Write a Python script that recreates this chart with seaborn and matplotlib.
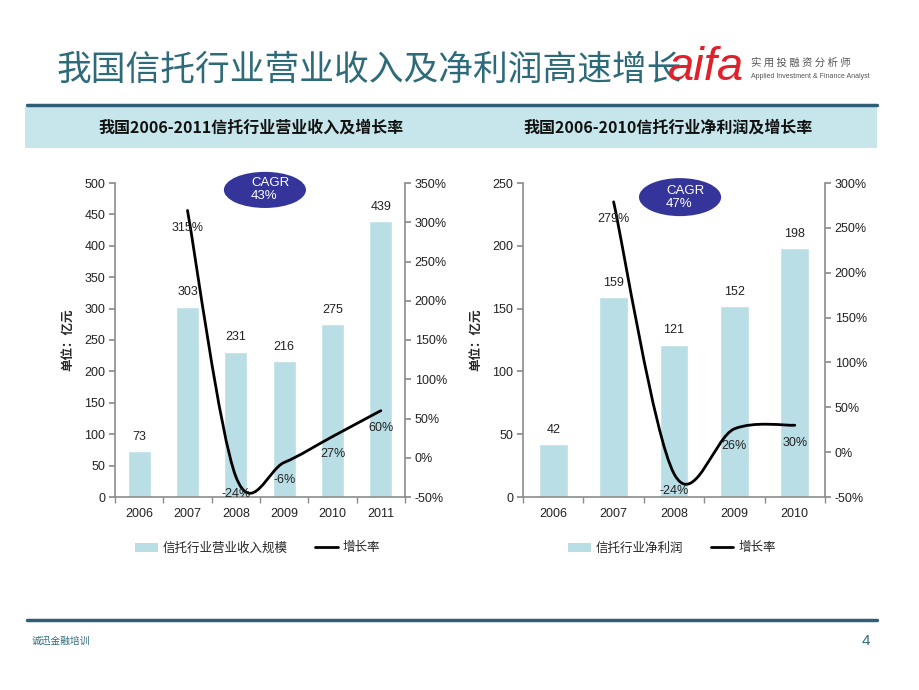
import numpy as np
import pandas as pd
import matplotlib
matplotlib.use('Agg')
import matplotlib.pyplot as plt
import seaborn as sns
from matplotlib.path import Path
from matplotlib.patches import PathPatch, Ellipse, Rectangle
from matplotlib.lines import Line2D

# data
years_rev = ['2006', '2007', '2008', '2009', '2010', '2011']
revenue = [73, 303, 231, 216, 275, 439]
rev_growth = [315, -24, -6, 27, 60]          # 2007-2011
years_prof = ['2006', '2007', '2008', '2009', '2010']
profit = [42, 159, 121, 152, 198]
prof_growth = [279, -24, 26, 30]             # 2007-2010
cagr_rev = '43%'
cagr_prof = '47%'

sns.set_theme(style='white')
plt.rcParams['font.family'] = ['Liberation Sans', 'Noto Sans CJK SC']

BAR = '#b9dee6'
TEAL = '#2d6a7a'
GRAY = '#8c8c8c'
W, H = 920, 690

fig = plt.figure(figsize=(9.2, 6.9), dpi=100)
fig.patch.set_facecolor('white')


def fx(px):
    return px / W


def fy(py):
    return 1 - py / H


def smooth_path(xs, ys):
    # excel style smoothed line as bezier segments
    pts = list(zip(xs, ys))
    verts = [pts[0]]
    codes = [Path.MOVETO]
    n = len(pts)
    for i in range(n - 1):
        p0 = np.array(pts[max(i - 1, 0)])
        p1 = np.array(pts[i])
        p2 = np.array(pts[i + 1])
        p3 = np.array(pts[min(i + 2, n - 1)])
        c1 = p1 + (p2 - p0) / 6
        c2 = p2 - (p3 - p1) / 6
        verts += [tuple(c1), tuple(c2), tuple(p2)]
        codes += [Path.CURVE4] * 3
    return Path(verts, codes)


def draw_chart(rect, years, vals, growth, ymax, gmax, cagr, ell, legend_label, legend_x):
    ax = fig.add_axes(rect)
    df = pd.DataFrame({'year': years, 'val': vals})
    sns.barplot(data=df, x='year', y='val', color=BAR, width=0.48, ax=ax,
                saturation=1)
    n = len(years)
    ax.set_xlim(-0.5, n - 0.5)
    ax.set_ylim(0, ymax)
    ax.set_yticks(np.arange(0, ymax + 1, 50))
    ax.set_xlabel('')
    ax.set_ylabel('单位：亿元', fontsize=9, fontweight='bold', labelpad=7,
                  family=['Noto Sans CJK SC'])
    for i, v in enumerate(vals):
        ax.annotate(str(v), (i, v), xytext=(0, 10.5), textcoords='offset points',
                    ha='center', va='center', fontsize=9, color='#222222')
    for s in ['top', 'right']:
        ax.spines[s].set_visible(False)
    for s in ['left', 'bottom']:
        ax.spines[s].set_color(GRAY)
        ax.spines[s].set_linewidth(1.2)
    ax.tick_params(axis='y', direction='out', length=4, color=GRAY, labelsize=9,
                   left=True, pad=3, labelcolor='#222222')
    ax.tick_params(axis='x', which='major', length=0, labelsize=9, pad=8,
                   labelcolor='#222222')
    ax.set_xticks(np.arange(-0.5, n, 1.0), minor=True)
    ax.tick_params(axis='x', which='minor', direction='out', length=4,
                   color=GRAY, bottom=True)

    ax2 = ax.twinx()
    ax2.set_xlim(-0.5, n - 0.5)
    ax2.set_ylim(-50, gmax)
    gt = np.arange(-50, gmax + 1, 50)
    ax2.set_yticks(gt)
    ax2.set_yticklabels([f'{int(t)}%' for t in gt])
    for s in ['top', 'left', 'bottom']:
        ax2.spines[s].set_visible(False)
    ax2.spines['right'].set_color(GRAY)
    ax2.spines['right'].set_linewidth(1.2)
    ax2.tick_params(axis='y', direction='out', length=4, color=GRAY, labelsize=9,
                    right=True, pad=3, labelcolor='#222222')
    gx = list(range(1, n))
    ax2.add_patch(PathPatch(smooth_path(gx, growth), facecolor='none',
                            edgecolor='black', linewidth=2, capstyle='round'))
    for x, g in zip(gx, growth):
        ax2.annotate(f'{g}%', (x, g), xytext=(0, -12.5), textcoords='offset points',
                     ha='center', va='center', fontsize=9, color='#222222')

    ex, ey, ew, eh = ell
    ax.add_patch(Ellipse((ex, ey), ew, eh, transform=ax.transAxes,
                         facecolor='#34349a', edgecolor='none', clip_on=False,
                         zorder=5))
    ax.text(ex - ew / 2 + 0.33 * ew, ey, f'CAGR\n{cagr}', transform=ax.transAxes,
            ha='left', va='center', color='white', fontsize=9.5,
            linespacing=1.1, zorder=6)

    handles = [Rectangle((0, 0), 1, 1, facecolor=BAR, edgecolor='none'),
               Line2D([0], [0], color='black', linewidth=2)]
    fig.legend(handles, [legend_label, '增长率'], loc='center',
               bbox_to_anchor=(fx(legend_x), fy(548)), ncol=2, frameon=False,
               prop={'family': ['Noto Sans CJK SC'], 'size': 9},
               handlelength=1.8, handletextpad=0.4, columnspacing=2.2)
    return ax


ax_l = draw_chart([fx(115), fy(497), fx(405 - 115), (497 - 183) / H],
                  years_rev, revenue, rev_growth, 500, 350, cagr_rev,
                  (0.517, 0.978, 0.283, 0.115), '信托行业营业收入规模', 258)
ax_r = draw_chart([fx(523), fy(497), fx(825 - 523), (497 - 183) / H],
                  years_prof, profit, prof_growth, 250, 300, cagr_prof,
                  (0.52, 0.955, 0.272, 0.121), '信托行业净利润', 672)

# header band and lines
fig.patches.append(Rectangle((fx(25), fy(148)), fx(877 - 25), (148 - 107) / H,
                             transform=fig.transFigure, facecolor='#c6e6eb',
                             edgecolor='none', zorder=0))
fig.add_artist(Line2D([fx(27), fx(877)], [fy(105), fy(105)], color='#2f5f78',
                      linewidth=2.5, transform=fig.transFigure))
fig.add_artist(Line2D([fx(27), fx(877)], [fy(620), fy(620)], color='#2f5f78',
                      linewidth=2.5, transform=fig.transFigure))

fig.text(fx(57), fy(70), '我国信托行业营业收入及净利润高速增长', fontsize=25,
         color=TEAL, ha='left', va='center', family=['Noto Sans CJK SC'])
fig.text(fx(251), fy(128), '我国2006-2011信托行业营业收入及增长率', fontsize=11.5,
         fontweight='bold', ha='center', va='center', color='#111111',
         family=['Noto Sans CJK SC'])
fig.text(fx(668), fy(128), '我国2006-2010信托行业净利润及增长率', fontsize=11.5,
         fontweight='bold', ha='center', va='center', color='#111111',
         family=['Noto Sans CJK SC'])

# logo, drawn over the end of the title as in the slide
fig.text(fx(668), fy(68), 'aifa', fontsize=34, style='italic', color='#e0202a',
         ha='left', va='center', family=['Liberation Sans'], zorder=5,
         bbox=dict(facecolor='none', edgecolor='none'))
fig.text(fx(751), fy(63), '实 用 投 融 资 分 析 师', fontsize=7.5, color='#555555',
         ha='left', va='center', family=['Noto Sans CJK SC'])
fig.text(fx(751), fy(76), 'Applied Investment & Finance Analyst', fontsize=5,
         color='#555555', ha='left', va='center')

# footer
fig.text(fx(32), fy(641), '诚迅金融培训', fontsize=7, color=TEAL, ha='left',
         va='center', family=['Noto Sans CJK SC'])
fig.text(fx(866), fy(641), '4', fontsize=11, color=TEAL, ha='center', va='center')

fig.savefig('out.png', dpi=100)
